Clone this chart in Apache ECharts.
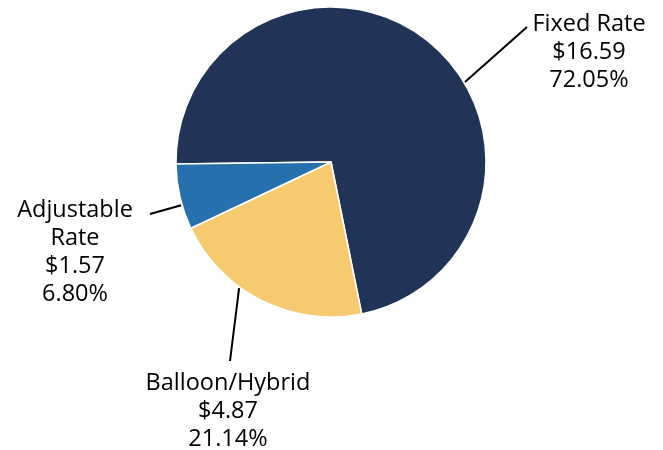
<!DOCTYPE html>
<html>
<head>
<meta charset="utf-8">
<script src="https://cdn.jsdelivr.net/npm/echarts@6/dist/echarts.min.js"></script>
<style>
  html, body { margin: 0; padding: 0; background: #fff; }
  #main { width: 663px; height: 450px; }
</style>
</head>
<body>
<div id="main"></div>
<script>
// data
const categories = ['Fixed Rate', 'Balloon/Hybrid', 'Adjustable\nRate'];
const amounts = [16.59, 4.87, 1.57];
const percents = ['72.05', '21.14', '6.80'];
const colors = ['#213457', '#f6cb6f', '#2670ae'];

// layout of the pie and its callouts (pixels)
const CENTER = [331, 162];
const RADIUS = 155;
const labelPos = [[589, 52], [228, 411], [75, 252]];
// leader line: start angle on the rim (deg, math convention) and end point
const lineStartAngle = [30.8, 233.9, 196.1];
const lineEnd = [[527, 27], [230, 361], [150, 214]];

function rimPoint(deg, r) {
    const a = deg * Math.PI / 180;
    return [CENTER[0] + r * Math.cos(a), CENTER[1] - r * Math.sin(a)];
}

const chart = echarts.init(document.getElementById('main'));
chart.setOption({
    animation: false,
    series: [
        {
            type: 'pie',
            center: CENTER,
            radius: RADIUS,
            startAngle: 180.75,
            clockwise: true,
            avoidLabelOverlap: false,
            emphasis: { disabled: true },
            itemStyle: {
                borderColor: '#fff',
                borderWidth: 1.5
            },
            label: {
                show: true,
                position: 'outside',
                color: '#000',
                fontFamily: 'Open Sans',
                fontSize: 23.5,
                lineHeight: 28,
                align: 'center',
                formatter: function (p) {
                    return p.name + '\n$' + amounts[p.dataIndex].toFixed(2) + '\n' + percents[p.dataIndex] + '%';
                }
            },
            labelLine: {
                show: true,
                lineStyle: { color: '#000', width: 2 }
            },
            labelLayout: function (params) {
                const i = params.dataIndex;
                return {
                    x: labelPos[i][0],
                    y: labelPos[i][1],
                    align: 'center',
                    verticalAlign: 'middle',
                    labelLinePoints: [rimPoint(lineStartAngle[i], 156), lineEnd[i]]
                };
            },
            data: categories.map(function (c, i) {
                return { name: c, value: amounts[i], itemStyle: { color: colors[i] } };
            })
        }
    ]
});
</script>
</body>
</html>
